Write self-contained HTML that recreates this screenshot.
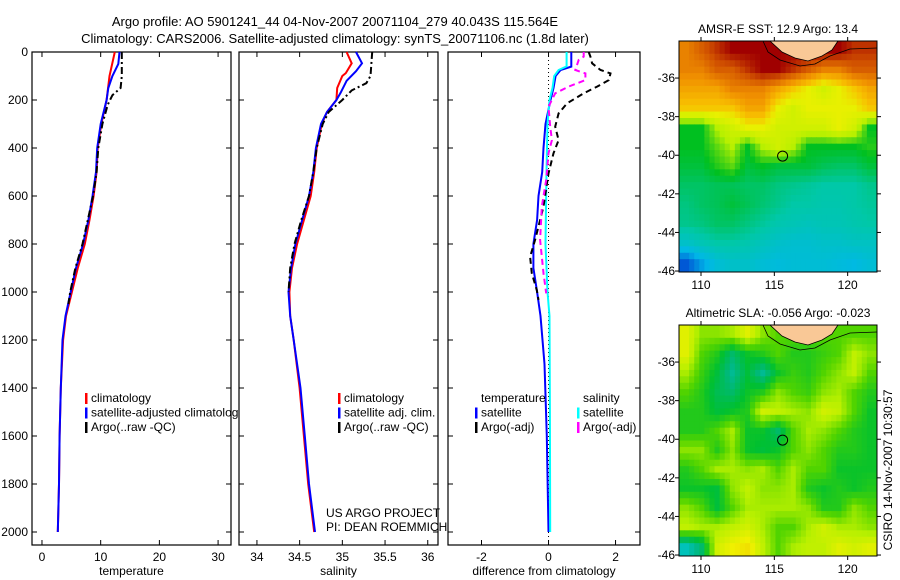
<!DOCTYPE html>
<html><head><meta charset="utf-8"><style>
html,body{margin:0;padding:0;background:#fff;}
svg{display:block;font-family:"Liberation Sans",sans-serif;}
text{font-size:12px;fill:#000;}
</style></head><body>
<svg id="fig" width="900" height="580" viewBox="0 0 900 580">
<text x="335" y="26" text-anchor="middle" style="font-size:13px">Argo profile: AO 5901241_44 04-Nov-2007 20071104_279 40.043S 115.564E</text>
<text x="335" y="43" text-anchor="middle" style="font-size:13px">Climatology: CARS2006. Satellite-adjusted climatology: synTS_20071106.nc (1.8d later)</text>
<g id="g1"></g>
<g id="g2"></g>
<g id="g3"></g>
<g id="m1"></g>
<g id="m2"></g>
<text transform="translate(892,470) rotate(-90)" text-anchor="middle">CSIRO 14-Nov-2007 10:30:57</text>
</svg>
<script>
// ---- profile data ----
const depthTicks = [0,200,400,600,800,1000,1200,1400,1600,1800,2000];
const tempTicks = [0,10,20,30];
const salTicks = [34,34.5,35,35.5,36];
const salTickLabels = ["34","34.5","35","35.5","36"];
const diffTicks = [-2,0,2];

const tClimDepth = [0,100,200,300,400,500,600,700,800,900,1000,1100,1200,1400,1600,1800,2000];
const tClimVal   = [12.4,11.5,11.0,10.1,9.5,9.3,8.8,8.1,7.3,6.1,5.1,4.1,3.6,3.2,3.0,2.9,2.7];
const tSatDepth  = [0,50,100,150,200,300,400,500,600,700,800,900,1000,1100,1200,1400,1600,1800,2000];
const tSatVal    = [13.2,13.0,12.0,11.3,11.0,10.0,9.4,9.2,8.6,7.9,7.0,5.8,4.9,4.0,3.5,3.2,3.0,2.9,2.7];
const tArgoDepth = [0,100,150,180,220,300,400,500,600,700,800,900,1000,1050];
const tArgoVal   = [13.6,13.6,13.4,12.0,11.2,10.3,9.6,9.3,8.7,7.8,6.9,5.7,4.8,4.5];

const sClimDepth = [0,47,88,100,150,200,250,300,400,500,600,700,800,900,1000,1100,1200,1400,1600,1800,2000];
const sClimVal   = [35.05,35.11,35.04,35.0,34.94,34.93,34.82,34.76,34.70,34.67,34.63,34.55,34.47,34.41,34.38,34.39,34.43,34.50,34.55,34.60,34.67];
const sSatDepth  = [0,47,80,120,170,200,250,300,400,500,600,700,800,900,1000,1100,1200,1400,1600,1800,2000];
const sSatVal    = [35.16,35.23,35.16,35.05,34.98,34.93,34.82,34.75,34.69,34.66,34.61,34.53,34.45,34.40,34.37,34.39,34.43,34.51,34.56,34.61,34.68];
const sArgoDepth = [0,100,130,160,200,250,300,400,500,600,700,800,900,1000];
const sArgoVal   = [35.35,35.33,35.28,35.11,35.0,34.84,34.77,34.70,34.66,34.61,34.52,34.44,34.39,34.37];

const dTSatDepth = [0,61,75,100,150,200,300,400,500,600,700,800,900,1000,1100,1300,1600,2000];
const dTSatVal   = [0.68,0.68,0.36,0.21,0.15,0.06,-0.09,-0.15,-0.19,-0.3,-0.34,-0.45,-0.45,-0.34,-0.24,-0.12,-0.05,0];
const dSSatDepth = [0,60,75,100,150,200,300,500,800,1000,1100,1500,2000];
const dSSatVal   = [0.54,0.54,0.3,0.17,0.12,0.03,-0.03,-0.06,-0.09,-0.03,0.03,0.04,0.05];
const dTArgoDepth = [0,19,47,75,89,117,144,172,214,256,311,367,422,506,644,783,853,922,992,1033];
const dTArgoVal   = [1.2,1.25,1.3,1.55,1.85,1.8,1.45,1.05,0.55,0.3,0.2,0.3,0.15,0,-0.15,-0.4,-0.55,-0.5,-0.35,-0.3];
const dSArgoDepth = [0,19,33,75,89,117,144,172,228,311,367,422,533,644,783,922,1006];
const dSArgoVal   = [1.05,1.05,0.9,0.8,1.1,1.1,0.6,0.2,0,0.05,0.1,0,-0.07,-0.2,-0.25,-0.15,-0.07];

// ---- map data ----
const lonTicks = [110,115,120];
const latTicks = [-36,-38,-40,-42,-44,-46];
const sstTitle = "AMSR-E SST: 12.9 Argo: 13.4";
const slaTitle = "Altimetric SLA: -0.056 Argo: -0.023";
const sstGrid = [
 [15.5,16,16.5,17,17,17,17,17,17,17,17,16.5,16.5],
 [15.5,15.5,16,16,16.5,17,17,16.5,16,15.5,15.5,16,16],
 [15,15,15,15.5,15.5,15.5,15,14.5,14,13.5,14,14.5,15],
 [14.5,14.5,14.5,14.5,15,15,14,13.5,14,14,14,14,14.5],
 [12,12,13,13.5,14,14,13.5,13.5,13.5,13.5,14,13.5,12],
 [12,12,12.5,13,12,13,13.5,13,12,12,12,12,12.2],
 [11.8,11.8,12.2,12.5,11.8,12,11.8,11.8,11.8,11.6,11.5,11.5,11.8],
 [11.5,11.5,11.6,11.6,11.5,11.5,11.3,11.2,11.1,11,11,11,11.2],
 [11.3,11.5,11.6,11.8,11.6,11.4,11.2,11,11,10.9,10.9,11,11.1],
 [11.2,11.3,11.5,11.5,11.3,11.1,10.9,10.8,10.7,10.8,10.8,10.9,11],
 [10.5,10.8,11,11,10.9,10.7,10.5,10.4,10.4,10.5,10.5,10.6,10.6],
 [9.2,9.8,10.3,10.5,10.5,10.3,10.2,10.3,10.3,10.3,10.2,10.1,10.3]];
const slaGrid = [
 [0.06,0.02,0.02,0.03,0.06,0.02,0,0,0,0,0,0,0],
 [0.06,0,-0.02,-0.06,-0.03,-0.02,0,-0.02,-0.02,-0.01,0,0.04,0.02],
 [0.03,-0.01,-0.04,-0.08,-0.04,-0.08,-0.03,-0.01,-0.02,0,0.02,0.04,0],
 [0,-0.02,-0.05,-0.06,-0.03,-0.02,0.02,0,-0.01,0.02,0.03,0,-0.02],
 [-0.02,-0.02,-0.04,-0.03,-0.02,0.05,0.04,0.03,0.02,0.05,0.04,0,-0.03],
 [-0.02,-0.02,0,0.03,-0.03,-0.03,-0.06,0,0.03,0.02,0,-0.02,-0.03],
 [0.02,0.02,-0.02,0.02,-0.03,-0.04,-0.03,0,0.02,0,-0.02,-0.02,-0.03],
 [-0.02,0,0.03,0.03,0.02,0.03,0,0.03,0,0,-0.03,-0.03,-0.03],
 [-0.03,-0.03,-0.04,0.02,0.04,0.02,0.02,0.03,-0.02,-0.03,-0.02,-0.03,-0.02],
 [0.02,0,-0.04,0,0.03,0.03,0.03,0.03,0.02,-0.02,-0.02,0.02,0],
 [0.04,0.03,0.03,0.04,0.05,0.03,0,0,0.03,0.05,0.03,0.03,0.02],
 [-0.1,-0.06,0.05,0.07,0.08,0.04,0,0.03,0.04,0.04,0.06,0.05,0.06]];
const argoLon = 115.564, argoLat = -40.043;

const NS="http://www.w3.org/2000/svg";
function mk(tag,attrs,parent){const e=document.createElementNS(NS,tag);for(const k in attrs)e.setAttribute(k,attrs[k]);parent.appendChild(e);return e;}

const PT=52, PB=545, yD=d=>52+d*0.24;

function panel(g,x0,x1,vmin,vmax,ticks,labels,xlabel,showY){
  const xs=v=>x0+(v-vmin)/(vmax-vmin)*(x1-x0);
  const r=mk('rect',{x:x0,y:PT,width:x1-x0,height:PB-PT,fill:'#fff',stroke:'#000','stroke-width':1.2},g);
  
  
  ticks.forEach((t,i)=>{
    const X=xs(t);
    mk('line',{x1:X,y1:PB,x2:X,y2:PB-5,stroke:'#000'},g);
    mk('line',{x1:X,y1:PT,x2:X,y2:PT+5,stroke:'#000'},g);
    const tx=mk('text',{x:X,y:PB+16,'text-anchor':'middle'},g);tx.textContent=labels[i];
    
    
  });
  depthTicks.forEach(d=>{
    const Y=yD(d);
    mk('line',{x1:x0,y1:Y,x2:x0+5,y2:Y,stroke:'#000'},g);
    mk('line',{x1:x1,y1:Y,x2:x1-5,y2:Y,stroke:'#000'},g);
    if(showY){const t=mk('text',{x:x0-4,y:Y+4,'text-anchor':'end'},g);t.textContent=d;
      
      }
  });
  const xl=mk('text',{x:(x0+x1)/2,y:PB+30,'text-anchor':'middle'},g);xl.textContent=xlabel;
  
  
  return xs;
}
function line(g,xs,dep,val,color,dash,name){
  const p=dep.map((d,i)=>xs(val[i]).toFixed(1)+','+yD(d).toFixed(1)).join(' ');
  const a={points:p,fill:'none',stroke:color,'stroke-width':2};
  if(dash)a['stroke-dasharray']=dash;
  const e=mk('polyline',a,g);
  
  
}
function legend(g,x,y,items){
  items.forEach((it,i)=>{
    const Y=y+i*14.5;
    if(it[1]) mk('rect',{x:x,y:Y-9,width:2.5,height:11,fill:it[1]},g);
    const t=mk('text',{x:x+6,y:Y},g);t.textContent=it[0];
    
    
  });
}

const g1=document.getElementById('g1'),g2=document.getElementById('g2'),g3=document.getElementById('g3');
const xs1=panel(g1,32,231,-1.7,32.2,tempTicks,tempTicks.map(String),'temperature',true);
line(g1,xs1,tClimDepth,tClimVal,'#f00',null,'temp-climatology-line');
line(g1,xs1,tSatDepth,tSatVal,'#00f',null,'temp-satellite-line');
line(g1,xs1,tArgoDepth,tArgoVal,'#000','7,3,2,3','temp-argo-line');
legend(g1,85,402,[['climatology','#f00'],['satellite-adjusted climatology','#00f'],['Argo(..raw -QC)','#000']]);

const xs2=panel(g2,239,438,33.79,36.12,salTicks,salTickLabels,'salinity',false);
line(g2,xs2,sClimDepth,sClimVal,'#f00',null,'sal-climatology-line');
line(g2,xs2,sSatDepth,sSatVal,'#00f',null,'sal-satellite-line');
line(g2,xs2,sArgoDepth,sArgoVal,'#000','7,3,2,3','sal-argo-line');
legend(g2,338,402,[['climatology','#f00'],['satellite adj. clim.','#00f'],['Argo(..raw -QC)','#000']]);
const t1=mk('text',{x:326,y:517},g2);t1.textContent='US ARGO PROJECT';


const t2=mk('text',{x:326,y:531},g2);t2.textContent='PI: DEAN ROEMMICH';



const xs3=panel(g3,448,640,-3.0,2.73,diffTicks,diffTicks.map(String),'difference from climatology',false);
mk('line',{x1:xs3(0),y1:PT,x2:xs3(0),y2:PB,stroke:'#000','stroke-dasharray':'1,3'},g3);
line(g3,xs3,dTSatDepth,dTSatVal,'#00f',null,'temp-diff-satellite-line');
line(g3,xs3,dSSatDepth,dSSatVal,'#0ff',null,'sal-diff-satellite-line');
line(g3,xs3,dTArgoDepth,dTArgoVal,'#000','6,4','temp-diff-argo-line');
line(g3,xs3,dSArgoDepth,dSArgoVal,'#f0f','6,4','sal-diff-argo-line');
legend(g3,475,402,[['temperature',null],['satellite','#00f'],['Argo(-adj)','#000']]);
legend(g3,577,402,[['salinity',null],['satellite','#0ff'],['Argo(-adj)','#f0f']]);

// ---- maps ----
function lerpColor(stops,v){
  if(v<=stops[0][0])return stops[0][1];
  for(let i=1;i<stops.length;i++){
    if(v<=stops[i][0]){
      const a=stops[i-1],b=stops[i],f=(v-a[0])/(b[0]-a[0]);
      const ca=a[1].match(/\w\w/g).map(h=>parseInt(h,16)),cb=b[1].match(/\w\w/g).map(h=>parseInt(h,16));
      return 'rgb('+ca.map((c,k)=>Math.round(c+(cb[k]-c)*f)).join(',')+')';
    }
  }
  return stops[stops.length-1][1];
}
const sstStops=[[9,'#0040d0'],[10,'#00b8e8'],[11,'#00c8a8'],[12,'#00c020'],[13,'#b8f000'],[14,'#e8f000'],[14.6,'#f8c000'],[15.3,'#f09000'],[16.2,'#d05000'],[17,'#a00000']];
const slaStops=[[-0.12,'#00c8e0'],[-0.07,'#00b880'],[-0.035,'#00c030'],[0,'#50d400'],[0.035,'#b8f000'],[0.07,'#f0f000'],[0.1,'#f0c000']];

function sample(grid,fr,fc){
  const R=grid.length,C=grid[0].length;
  fr=Math.max(0,Math.min(R-1,fr));fc=Math.max(0,Math.min(C-1,fc));
  const r0=Math.floor(fr),c0=Math.floor(fc),r1=Math.min(R-1,r0+1),c1=Math.min(C-1,c0+1),a=fr-r0,b=fc-c0;
  return grid[r0][c0]*(1-a)*(1-b)+grid[r0][c1]*(1-a)*b+grid[r1][c0]*a*(1-b)+grid[r1][c1]*a*b;
}
function map(g,y0,y1,grid,stops,title,nm){
  const x0=679,x1=877,lon0=108.5,lon1=122.0,lat0=-34.08,lat1=-46.05;
  const X=l=>x0+(l-lon0)/(lon1-lon0)*(x1-x0), Y=l=>y0+(l-lat0)/(lat1-lat0)*(y1-y0);
  const rows=grid.length,cols=grid[0].length,S=3;
  const cw=(x1-x0)/(cols*S),ch=(y1-y0)/(rows*S);
  for(let r=0;r<rows*S;r++)for(let c=0;c<cols*S;c++){
    const v=sample(grid,(r+0.5)/S-0.5,(c+0.5)/S-0.5);
    const e=mk('rect',{x:(x0+c*cw).toFixed(2),y:(y0+r*ch).toFixed(2),width:(cw+0.5).toFixed(2),height:(ch+0.5).toFixed(2),fill:lerpColor(stops,v)},g);
    
    
  }
  const d=y0-41;
  const land=mk('path',{d:`M770,${41+d} L838,${41+d} L832,${50+d} L822,${56+d} L808,${61+d} L795,${58+d} L782,${52+d} Z`,fill:'#f9c896',stroke:'#000','stroke-width':0.8},g);
  
  
  const coast=mk('polyline',{points:`763,${41+d} 768,${52+d} 780,${60+d} 800,${66+d} 815,${64+d} 830,${56+d} 850,${49+d} 877,${48+d}`,fill:'none',stroke:'#000','stroke-width':0.8},g);
  
  
  const fr=mk('rect',{x:x0,y:y0,width:x1-x0,height:y1-y0,fill:'none',stroke:'#000'},g);
  
  
  lonTicks.forEach(l=>{
    mk('line',{x1:X(l),y1:y0,x2:X(l),y2:y0-4,stroke:'#000'},g);
    mk('line',{x1:X(l),y1:y1,x2:X(l),y2:y1+4,stroke:'#000'},g);
    const t=mk('text',{x:X(l),y:y1+17,'text-anchor':'middle'},g);t.textContent=l;
    
    
  });
  latTicks.forEach(l=>{
    mk('line',{x1:x0,y1:Y(l),x2:x0-4,y2:Y(l),stroke:'#000'},g);
    mk('line',{x1:x1,y1:Y(l),x2:x1+4,y2:Y(l),stroke:'#000'},g);
    const t=mk('text',{x:x0-4,y:Y(l)+4,'text-anchor':'end'},g);t.textContent=l;
    
    
  });
  const c=mk('circle',{cx:X(argoLon),cy:Y(argoLat),r:5,fill:'none',stroke:'#000','stroke-width':1},g);
  
  
  const t=mk('text',{x:(x0+x1)/2,y:y0-8,'text-anchor':'middle'},g);t.textContent=title;
  
  
}
map(document.getElementById('m1'),41,272,sstGrid,sstStops,sstTitle,'sst');
map(document.getElementById('m2'),325,556,slaGrid,slaStops,slaTitle,'sla');
</script>
</body></html>
